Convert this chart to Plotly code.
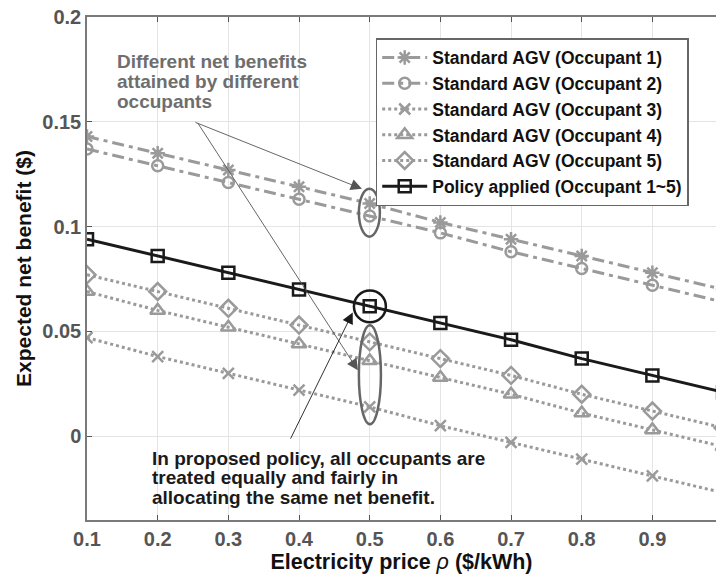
import plotly.graph_objects as go

price = [0.1, 0.2, 0.3, 0.4, 0.5, 0.6, 0.7, 0.8, 0.9, 1.0]
occupant1 = [0.143, 0.135, 0.127, 0.119, 0.111, 0.102, 0.094, 0.086, 0.078, 0.070]
occupant2 = [0.137, 0.129, 0.121, 0.113, 0.105, 0.097, 0.088, 0.080, 0.072, 0.064]
occupant3 = [0.047, 0.038, 0.030, 0.022, 0.014, 0.005, -0.003, -0.011, -0.019, -0.027]
occupant4 = [0.069, 0.060, 0.052, 0.044, 0.036, 0.028, 0.020, 0.011, 0.003, -0.005]
occupant5 = [0.077, 0.069, 0.061, 0.053, 0.045, 0.037, 0.029, 0.020, 0.012, 0.004]
policy = [0.094, 0.086, 0.078, 0.070, 0.062, 0.054, 0.046, 0.037, 0.029, 0.021]

names = ["Standard AGV (Occupant 1)", "Standard AGV (Occupant 2)", "Standard AGV (Occupant 3)",
         "Standard AGV (Occupant 4)", "Standard AGV (Occupant 5)", "Policy applied (Occupant 1~5)"]
x_ticks = [0.1, 0.2, 0.3, 0.4, 0.5, 0.6, 0.7, 0.8, 0.9]
x_ticklabels = ["0.1", "0.2", "0.3", "0.4", "0.5", "0.6", "0.7", "0.8", "0.9"]
y_ticks = [0, 0.05, 0.1, 0.15, 0.2]
y_ticklabels = ["0", "0.05", "0.1", "0.15", "0.2"]

gray_note = ["Different net benefits", "attained by different", "occupants"]
black_note = ["In proposed policy, all occupants are", "treated equally and fairly in",
              "allocating the same net benefit."]

FONT = "Liberation Sans, Arial, sans-serif"
GRAY = "#9a9a9a"
BLACK = "#1a1a1a"

fig = go.Figure()
series = [
    (occupant1, "asterisk-open", "12px,5px,4px,5px", GRAY, 12),
    (occupant2, "circle-open", "12px,5px,4px,5px", GRAY, 11),
    (occupant3, "x-thin-open", "dot", GRAY, 11),
    (occupant4, "triangle-up-open", "dot", GRAY, 13),
    (occupant5, "diamond-open", "dot", GRAY, 13),
    (policy, "square-open", "solid", BLACK, 12),
]
for (vals, sym, dash, col, msize), nm in zip(series, names):
    fig.add_trace(go.Scatter(
        x=price, y=vals, name=nm, mode="lines+markers",
        line=dict(color=col, width=3, dash=dash),
        marker=dict(symbol=sym, size=msize, color=col, line=dict(color=col, width=2.5)),
    ))

fig.update_layout(
    width=717, height=574,
    margin=dict(l=87, r=1, t=17, b=54),
    paper_bgcolor="white", plot_bgcolor="white",
    font=dict(family=FONT, size=17, color="black", weight="bold"),
    showlegend=True,
    legend=dict(
        x=0.459, y=0.958, xanchor="left", yanchor="top",
        bgcolor="white", bordercolor="#666666", borderwidth=1.5,
        font=dict(family=FONT, size=17.5, color="#111111", weight="bold"),
        itemwidth=45, tracegroupgap=0,
    ),
    xaxis=dict(
        range=[0.1, 0.99], tickvals=x_ticks, ticktext=x_ticklabels, automargin=False,
        showgrid=True, gridcolor="#e4e4e4", gridwidth=1,
        showline=True, linecolor="#7a7a7a", linewidth=1.5, mirror="ticks",
        ticks="inside", ticklen=5, tickcolor="#555555",
        tickfont=dict(family=FONT, size=20, color="#555555", weight="bold"),
        title=dict(text="Electricity price <i style='font-weight:normal'>ρ</i> ($/kWh)",
                   font=dict(family=FONT, size=21.5, color="#111111", weight="bold"), standoff=2),
        zeroline=False,
    ),
    yaxis=dict(
        range=[-0.04, 0.2], tickvals=y_ticks, ticktext=y_ticklabels, automargin=False,
        showgrid=True, gridcolor="#e4e4e4", gridwidth=1,
        showline=True, linecolor="#7a7a7a", linewidth=1.5,
        ticks="inside", ticklen=5, tickcolor="#555555",
        tickfont=dict(family=FONT, size=20, color="#555555", weight="bold"),
        title=dict(text="Expected net benefit ($)",
                   font=dict(family=FONT, size=21, color="#111111", weight="bold"), standoff=5),
        zeroline=False,
    ),
)

# ellipses highlighting the values at rho = 0.5
fig.add_shape(type="circle", xref="x", yref="y", x0=0.4847, x1=0.5144, y0=0.0952, y1=0.1181,
              line=dict(color="#666666", width=2.5))
fig.add_shape(type="circle", xref="x", yref="y", x0=0.4847, x1=0.5159, y0=0.0057, y1=0.0529,
              line=dict(color="#666666", width=2.5))
fig.add_shape(type="circle", xref="x", yref="y", x0=0.4777, x1=0.5229, y0=0.0543, y1=0.0695,
              line=dict(color=BLACK, width=2.5))

# arrows
fig.add_annotation(x=0.489, y=0.118, ax=0.2513, ay=0.15, xref="x", yref="y", axref="x", ayref="y",
                   text="", showarrow=True, arrowhead=2, arrowsize=2.5, arrowwidth=0.9,
                   arrowcolor="#555555")
fig.add_annotation(x=0.4833, y=0.0314, ax=0.2556, ay=0.15, xref="x", yref="y", axref="x", ayref="y",
                   text="", showarrow=True, arrowhead=2, arrowsize=2.5, arrowwidth=0.9,
                   arrowcolor="#555555")
fig.add_annotation(x=0.476, y=0.059, ax=0.387, ay=-0.0019, xref="x", yref="y", axref="x", ayref="y",
                   text="", showarrow=True, arrowhead=2, arrowsize=2.5, arrowwidth=0.9,
                   arrowcolor=BLACK)

# text notes, one annotation per line for tight line spacing
for line, yy in zip(gray_note, [0.1787, 0.1690, 0.1597]):
    fig.add_annotation(x=0.1396, y=yy, xref="x", yref="y", xanchor="left", yanchor="middle",
                       align="left", showarrow=False, text=line,
                       font=dict(family=FONT, size=19, color="#6e6e6e", weight="bold"))
for line, yy in zip(black_note, [-0.0108, -0.0199, -0.0294]):
    fig.add_annotation(x=0.1891, y=yy, xref="x", yref="y", xanchor="left", yanchor="middle",
                       align="left", showarrow=False, text=line,
                       font=dict(family=FONT, size=19, color=BLACK, weight="bold"))

fig.write_html("out.html", config={"displayModeBar": False},
               post_script="document.body.style.margin='0';")
